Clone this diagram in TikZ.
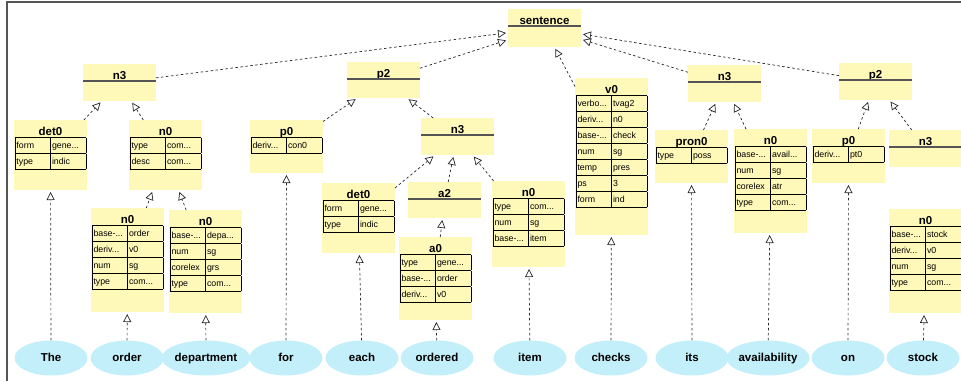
\documentclass[tikz,border=0pt]{standalone}
\usepackage{fontspec}
\setmainfont{Liberation Sans}
\usepackage{tikz}
\usetikzlibrary{arrows.meta,shapes.geometric}
\definecolor{boxfill}{HTML}{FFF9B9}
\definecolor{wordfill}{HTML}{C2EFF9}
\definecolor{framegray}{HTML}{555555}
\renewcommand{\arraystretch}{1.52}
\setlength{\tabcolsep}{1.5pt}
\setlength{\arrayrulewidth}{0.8pt}

% box with a title rule only
\newcommand{\catbox}[5]{%
  \node[fsbox,minimum height=#4] (#1) at (#2,#3) {};
  \node[fstitle] (#1-t) at ([yshift=-12pt]#1.north) {#5};
  \draw[titlerule] ([yshift=-17pt]#1.north west) -- ([yshift=-17pt]#1.north east);
}
% box with a feature table
\newcommand{\featbox}[6]{%
  \node[fsbox,minimum height=#4] (#1) at (#2,#3) {};
  \node[fstitle] (#1-t) at ([yshift=-12pt]#1.north) {#5};
  \node[fstable] (#1-a) at ([yshift=-17pt]#1.north)
    {\begin{tabular}{|p{32.5pt}|p{32.5pt}|}\hline #6\end{tabular}};
}

\begin{document}
\begin{tikzpicture}[x=1pt,y=-1pt,
    fsbox/.style={fill=boxfill,anchor=north west,minimum width=73pt,
                  inner sep=0pt,outer sep=0pt},
    fstitle/.style={inner sep=0pt,text height=8pt,text depth=2pt,
                    font=\bfseries\fontsize{11.5}{13}\selectfont},
    fstable/.style={anchor=north,inner sep=0pt,font=\fontsize{8.8}{10}\selectfont},
    titlerule/.style={draw=framegray,line width=1.2pt},
    word/.style={ellipse,fill=wordfill,minimum width=73pt,minimum height=35pt,
                 inner sep=0pt,text height=8.5pt,text depth=2.5pt,
                 font=\bfseries\fontsize{11.5}{13}\selectfont},
    isa/.style={draw=black!85,line width=0.7pt,dash pattern=on 2.5pt off 2.5pt,
                -{Triangle[open,length=8pt,width=8pt]},shorten >=2pt}]
  \useasboundingbox (0,0) rectangle (961,381);
  \clip (0,0) rectangle (961,381);
  \draw[framegray,line width=1.5pt] (7,381) -- (7,2) -- (961,2);

  % top levels
  \catbox{sent}{508}{9}{38}{sentence}
  \catbox{nthreeL}{83}{64}{37}{n3}
  \catbox{ptwoL}{347}{62}{36}{p2}
  \featbox{vzero}{575}{78}{157}{v0}{%
    verbo... & tvag2\\\hline deriv... & n0\\\hline base-... & check\\\hline
    num & sg\\\hline temp & pres\\\hline ps & 3\\\hline form & ind\\\hline}
  \catbox{nthreeR}{688}{65}{37}{n3}
  \catbox{ptwoR}{839}{63}{37}{p2}

  % second level
  \featbox{detL}{14}{120}{70}{det0}{form & gene...\\\hline type & indic\\\hline}
  \featbox{nzeroL}{129}{120}{70}{n0}{type & com...\\\hline desc & com...\\\hline}
  \featbox{pzeroL}{250}{120}{53}{p0}{deriv... & con0\\\hline}
  \catbox{nthreeM}{421}{118}{37}{n3}
  \featbox{pronzero}{655}{130}{53}{pron0}{type & poss\\\hline}
  \featbox{nzeroAv}{734}{129}{104}{n0}{%
    base-... & avail...\\\hline num & sg\\\hline corelex & atr\\\hline type & com...\\\hline}
  \featbox{pzeroR}{812}{129}{54}{p0}{deriv... & pt0\\\hline}
  \catbox{nthreeRR}{889}{130}{37}{n3}

  % third level
  \featbox{detM}{322}{183}{70}{det0}{form & gene...\\\hline type & indic\\\hline}
  \catbox{atwo}{408}{182}{36}{a2}
  \featbox{nzeroIt}{492}{181}{86}{n0}{%
    type & com...\\\hline num & sg\\\hline base-... & item\\\hline}
  \featbox{azero}{399}{237}{83}{a0}{%
    type & gene...\\\hline base-... & order\\\hline deriv... & v0\\\hline}
  \featbox{nzeroOr}{91}{208}{104}{n0}{%
    base-... & order\\\hline deriv... & v0\\\hline num & sg\\\hline type & com...\\\hline}
  \featbox{nzeroDe}{169}{210}{103}{n0}{%
    base-... & depa...\\\hline num & sg\\\hline corelex & grs\\\hline type & com...\\\hline}
  \featbox{nzeroSt}{889}{209}{104}{n0}{%
    base-... & stock\\\hline deriv... & v0\\\hline num & sg\\\hline type & com...\\\hline}

  % words
  \node[word] (wThe) at (51,358) {The};
  \node[word] (wOrder) at (127,358) {order};
  \node[word] (wDept) at (206,358) {department};
  \node[word] (wFor) at (286,358) {for};
  \node[word] (wEach) at (362,358) {each};
  \node[word] (wOrdered) at (437,358) {ordered};
  \node[word] (wItem) at (530,358) {item};
  \node[word] (wChecks) at (611,358) {checks};
  \node[word] (wIts) at (692,358) {its};
  \node[word] (wAvail) at (768,358) {availability};
  \node[word] (wOn) at (848,358) {on};
  \node[word] (wStock) at (923,358) {stock};

  % links
  \draw[isa] (nthreeL) -- (sent);
  \draw[isa] (ptwoL) -- (sent);
  \draw[isa] (vzero) -- (sent);
  \draw[isa] (nthreeR) -- (sent);
  \draw[isa] (ptwoR) -- (sent);
  \draw[isa] (detL) -- (nthreeL);
  \draw[isa] (nzeroL) -- (nthreeL);
  \draw[isa] (pzeroL) -- (ptwoL);
  \draw[isa] (nthreeM) -- (ptwoL);
  \draw[isa] (detM) -- (nthreeM);
  \draw[isa] (atwo) -- (nthreeM);
  \draw[isa] (nzeroIt) -- (nthreeM);
  \draw[isa] (azero) -- (atwo);
  \draw[isa] (pronzero) -- (nthreeR);
  \draw[isa] (nzeroAv) -- (nthreeR);
  \draw[isa] (pzeroR) -- (ptwoR);
  \draw[isa] (nthreeRR) -- (ptwoR);
  \draw[isa] (nzeroOr) -- (nzeroL);
  \draw[isa] (nzeroDe) -- (nzeroL);
  \draw[isa] (wThe) -- (detL);
  \draw[isa] (wOrder) -- (nzeroOr);
  \draw[isa] (wDept) -- (nzeroDe);
  \draw[isa] (wFor) -- (pzeroL);
  \draw[isa] (wEach) -- (detM);
  \draw[isa] (wOrdered) -- (azero);
  \draw[isa] (wItem) -- (nzeroIt);
  \draw[isa] (wChecks) -- (vzero);
  \draw[isa] (wIts) -- (pronzero);
  \draw[isa] (wAvail) -- (nzeroAv);
  \draw[isa] (wOn) -- (pzeroR);
  \draw[isa] (wStock) -- (nzeroSt);
\end{tikzpicture}
\end{document}
